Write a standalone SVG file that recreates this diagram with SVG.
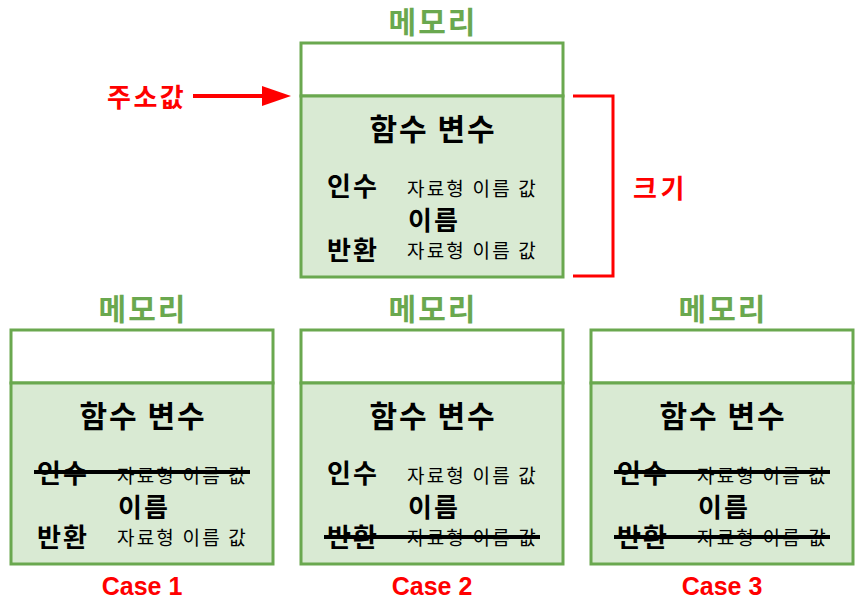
<svg xmlns="http://www.w3.org/2000/svg" width="863" height="603" viewBox="0 0 863 603">
<defs>
<style>
.kr{font-family:"Noto Sans CJK KR","Noto Sans",sans-serif;}
.mem{font-size:30px;font-weight:bold;fill:#6aa84f;text-anchor:middle;dominant-baseline:central;letter-spacing:2px;}
.title{font-size:30px;font-weight:bold;fill:#000;text-anchor:middle;dominant-baseline:central;letter-spacing:2px;}
.lbl{font-size:26px;font-weight:bold;fill:#000;dominant-baseline:central;letter-spacing:2px;}
.sub{font-size:19px;fill:#000;dominant-baseline:central;letter-spacing:2.2px;}
.red{font-size:26px;font-weight:bold;fill:#ff0000;dominant-baseline:central;}
.case{font-family:"Liberation Sans",Arial,sans-serif;font-size:25px;font-weight:bold;fill:#ff0000;text-anchor:middle;}
.top{fill:#ffffff;stroke:#6aa84f;stroke-width:3;}
.body{fill:#d9ead3;stroke:#6aa84f;stroke-width:3;}
.strike{stroke:#000;stroke-width:4;}
.redline{stroke:#ff0000;stroke-width:3;fill:none;}
</style>
<g id="frame">
<rect class="top" x="0" y="0" width="262" height="53"/>
<rect class="body" x="0" y="53" width="262" height="181"/>
<text class="kr mem" x="132" y="-23">메모리</text>
<text class="kr title" x="132" y="84">함수 변수</text>
<text class="kr lbl" x="26" y="141">인수</text>
<text class="kr sub" x="106" y="144">자료형 이름 값</text>
<text class="kr lbl" x="107" y="175">이름</text>
<text class="kr lbl" x="26" y="205">반환</text>
<text class="kr sub" x="106" y="206">자료형 이름 값</text>
</g>
</defs>
<g id="node-main">
<use href="#frame" x="301" y="43"/>
</g>
<g id="node-case1">
<use href="#frame" x="11" y="330"/>
<line class="strike" x1="34" y1="472" x2="250" y2="472"/>
<text class="case" x="142" y="595">Case 1</text>
</g>
<g id="node-case2">
<use href="#frame" x="301" y="330"/>
<line class="strike" x1="324" y1="537" x2="540" y2="537"/>
<text class="case" x="432" y="595">Case 2</text>
</g>
<g id="node-case3">
<use href="#frame" x="591" y="330"/>
<line class="strike" x1="614" y1="472" x2="830" y2="472"/>
<line class="strike" x1="614" y1="537" x2="830" y2="537"/>
<text class="case" x="722" y="595">Case 3</text>
</g>
<g id="node-address">
<text class="kr red" x="107" y="95" letter-spacing="2.5">주소값</text>
</g>
<g id="node-size">
<text class="kr red" x="633" y="186" letter-spacing="3.5">크기</text>
</g>
<g id="connectors">
<line x1="193" y1="96" x2="262" y2="96" stroke="#ff0000" stroke-width="4"/>
<path d="M262,86 L291,96 L262,106 Z" fill="#ff0000"/>
<path class="redline" d="M573,96 H613 V276 H573"/>
</g>
</svg>
